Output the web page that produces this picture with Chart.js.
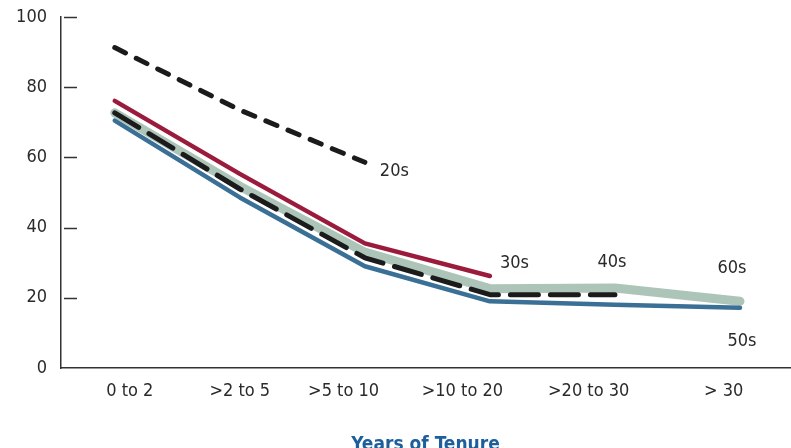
<!DOCTYPE html>
<html>
<head>
<meta charset="utf-8">
<script src="https://cdn.jsdelivr.net/npm/chart.js@4/dist/chart.umd.min.js"></script>
<style>
  html, body { margin: 0; padding: 0; background: #fff; }
  #wrap { width: 791px; height: 448px; }
</style>
</head>
<body>
<div id="wrap"><canvas id="chart" width="791" height="448"></canvas></div>
<script>
"use strict";

// categories on the x axis
var tenureLabels = ["0 to 2", ">2 to 5", ">5 to 10", ">10 to 20", ">20 to 30", "> 30"];

// one series per age group, null where the line stops
var age20s = [91.3, 73.5, 58.6, null, null, null];
var age30s = [76.1, 55.3, 35.5, 26.2, null, null];
var age40s = [72.7, 51.0, 31.4, 20.9, 20.9, null];
var age50s = [70.5, 48.6, 29.0, 19.0, 18.0, 17.2];
var age60s = [72.7, 51.8, 33.0, 22.6, 22.8, 19.0];

var yTicks = [0, 20, 40, 60, 80, 100];

var font = '"Liberation Sans Narrow", "DejaVu Sans Condensed", sans-serif';
var textColor = "#2a2a2a";
var textSize = 18;

// where each tick label sits relative to its point (label is a bit off the point in the original)
var tickShift = [0.12, 0.0, -0.17, -0.22, -0.21, -0.13];

function toPoints(values) {
  var pts = [];
  values.forEach(function(v, i) {
    if (v !== null) pts.push({x: i, y: v});
  });
  return pts;
}

// names written next to the line ends: [text, dataset index, dx, dy, align]
var endLabels = [
  ["20s", 1, 15, 9, "left"],
  ["30s", 2, 10, -13, "left"],
  ["40s", 0, -3, -32, "center"],
  ["60s", 4, -8, -33, "center"],
  ["50s", 3, 2, 34, "center"]
];

var endLabelPlugin = {
  id: "endLabels",
  afterDatasetsDraw: function(chart) {
    var ctx = chart.ctx;
    ctx.save();
    ctx.font = textSize + "px " + font;
    ctx.fillStyle = textColor;
    ctx.textBaseline = "middle";
    endLabels.forEach(function(l) {
      var pts = chart.getDatasetMeta(l[1]).data;
      var p = pts[pts.length - 1];
      ctx.textAlign = l[4];
      ctx.fillText(l[0], p.x + l[2], p.y + l[3]);
    });
    ctx.restore();
  }
};

// short tick marks drawn inside the plot, right of the y axis
var innerTicksPlugin = {
  id: "innerTicks",
  afterDraw: function(chart) {
    var ctx = chart.ctx;
    var y = chart.scales.y;
    var left = chart.chartArea.left;
    ctx.save();
    ctx.strokeStyle = "#333";
    ctx.lineWidth = 1.5;
    yTicks.forEach(function(t) {
      if (t === 0) return;
      var py = Math.round(y.getPixelForValue(t)) + 0.5;
      ctx.beginPath();
      ctx.moveTo(left + 3, py);
      ctx.lineTo(left + 16, py);
      ctx.stroke();
    });
    ctx.restore();
  }
};

var lineBase = {
  pointRadius: 0,
  pointHoverRadius: 0,
  tension: 0,
  fill: false,
  borderJoinStyle: "round",
  borderCapStyle: "round"
};

function series(label, values, color, width, dash, order) {
  return Object.assign({}, lineBase, {
    label: label,
    data: toPoints(values),
    borderColor: color,
    borderWidth: width,
    borderDash: dash,
    order: order
  });
}

new Chart(document.getElementById("chart"), {
  type: "line",
  data: {
    datasets: [
      series("40s", age40s, "#1b1b1b", 5, [28, 12], 0),
      series("20s", age20s, "#1b1b1b", 5, [12, 12], 1),
      series("30s", age30s, "#9b1b3c", 4.5, [], 2),
      series("50s", age50s, "#3a6f96", 4.5, [], 3),
      series("60s", age60s, "#adc5b9", 9, [], 4)
    ]
  },
  options: {
    responsive: false,
    animation: false,
    events: [],
    layout: { padding: { top: 17, right: 1, left: 0, bottom: 0 } },
    plugins: {
      legend: { display: false },
      tooltip: { enabled: false }
    },
    scales: {
      x: {
        type: "linear",
        min: -0.43,
        max: 5.4,
        afterBuildTicks: function(scale) {
          scale.ticks = tenureLabels.map(function(l, i) {
            return { value: i + tickShift[i] };
          });
        },
        afterFit: function(scale) {
          scale.height = 80;
          scale.paddingLeft = 0;
          scale.paddingRight = 0;
        },
        grid: { display: false, drawTicks: false },
        border: { display: true, color: "#333", width: 1.5 },
        ticks: {
          autoSkip: false,
          maxRotation: 0,
          padding: 13,
          color: textColor,
          font: { family: font, size: textSize },
          callback: function(v, i) { return tenureLabels[i]; }
        },
        title: {
          display: true,
          text: "Years of Tenure",
          color: "#1d5e9c",
          font: { family: font, size: 19, weight: "bold", lineHeight: 1 },
          padding: { top: 0, bottom: -7 }
        }
      },
      y: {
        min: 0,
        max: 100,
        afterBuildTicks: function(scale) {
          scale.ticks = yTicks.map(function(v) { return { value: v }; });
        },
        afterFit: function(scale) {
          scale.width = 61;
          scale.paddingTop = 0;
          scale.paddingBottom = 0;
        },
        grid: { display: false, drawTicks: false },
        border: { display: true, color: "#333", width: 1.5 },
        ticks: {
          padding: 14,
          color: textColor,
          font: { family: font, size: textSize }
        }
      }
    }
  },
  plugins: [endLabelPlugin, innerTicksPlugin]
});
</script>
</body>
</html>
